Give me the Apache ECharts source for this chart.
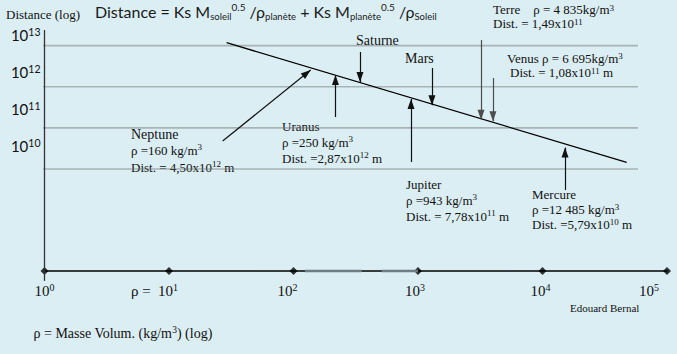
<!DOCTYPE html>
<html><head><meta charset="utf-8">
<script src="https://cdn.jsdelivr.net/npm/echarts@6/dist/echarts.min.js"></script>
<style>html,body{margin:0;padding:0;background:#dbeef4;}#c{width:677px;height:354px;}</style>
</head><body><div id="c"></div>
<script>
// ---------------- data (log10 values) ----------------
const rhoExponents  = [0, 1, 2, 3, 4, 5];          // x ticks : log10(ρ)
const distExponents = [10, 11, 12, 13];            // y ticks : log10(distance)
const trendRho  = [1.463, 4.676];                  // ends of the law line, log10 ρ
const trendDist = [13.071, 10.163];                // ends of the law line, log10 distance
const planets   = ['Neptune', 'Uranus', 'Saturne', 'Jupiter', 'Mars', 'Terre', 'Venus', 'Mercure'];
const arrowRho  = [[1.431, 2.138], [2.337, 2.337], [2.534, 2.534], [2.944, 2.944], [3.112, 3.112], [3.506, 3.506], [3.602, 3.602], [4.181, 4.181]];
const arrowDist = [[10.681, 12.407], [11.265, 12.286], [12.845, 12.116], [10.171, 11.702], [12.456, 11.55], [13.137, 11.2], [12.213, 11.16], [9.49, 10.52]];
const rhoText   = ['ρ =160 kg/m', 'ρ =250 kg/m', null, 'ρ =943 kg/m', null, 'ρ = 4 835kg/m', 'ρ = 6 695kg/m', 'ρ =12 485 kg/m'];
const distText  = ['Dist. = 4,50x10', 'Dist. =2,87x10', null, 'Dist. = 7,78x10', null, 'Dist. = 1,49x10', 'Dist. = 1,08x10', 'Dist. =5,79x10'];
const distPow   = [12, 12, null, 11, null, 11, 11, 10];
const distUnit  = [' m', ' m', null, ' m', null, '', ' m', ' m'];
const guideRho  = [-0.088, 4.767];                 // extent of the dotted guides
const yAxisSpan = [7.28, 13.38];                   // extent of the vertical axis line
const greyRho   = [[2.092, 2.548], [2.708, 3.0]];  // grey pieces on the x axis

// ---------------- styles / layout ----------------
const SERIF = "'Liberation Serif','Times New Roman',serif";
const SANS = "Lato,'Liberation Sans',sans-serif";
const INK = '#111';
const Y_MIN = 7.52, Y_MAX = 13.38;
const greyArrows = ['Terre', 'Venus'];
const layout = {
  Neptune: {mode: 'stack', x: 131, y: 126.5, lh: 16.3, nameSize: 14},
  Uranus:  {mode: 'stack', x: 282, y: 118, lh: 16, nameSize: 13},
  Saturne: {mode: 'name', x: 356, y: 32, nameSize: 14},
  Jupiter: {mode: 'stack', x: 406, y: 177, lh: 15.7, nameSize: 13},
  Mars:    {mode: 'name', x: 405, y: 50.5, nameSize: 14},
  Terre:   {mode: 'inline', x: 493, y: 3, x2: 493, y2: 17.3, sep: '    '},
  Venus:   {mode: 'inline', x: 507, y: 51.8, x2: 510, y2: 66.3, sep: ' '},
  Mercure: {mode: 'stack', x: 532, y: 187, lh: 15, nameSize: 13}
};
const xLabelPad = {0: 0, 1: 29, 2: 12, 3: 6, 4: 4, 5: 36};

function annRich(lh, nameSize) {
  return {
    t: {fontFamily: SERIF, fontSize: 13, lineHeight: lh, fill: INK},
    n: {fontFamily: SERIF, fontSize: nameSize || 13, lineHeight: lh, fill: INK},
    u: {fontFamily: SERIF, fontSize: 9, verticalAlign: 'top', fill: INK}
  };
}
function textEl(x, y, text, rich) {
  return {type: 'text', x: x, y: y, silent: true,
    style: {text: text, rich: rich, align: 'left', verticalAlign: 'top', fill: INK}};
}

const graphics = [];
// title
graphics.push(textEl(95, 1.5,
  '{a|Distance = Ks M}{b|soleil}{c|0.5}{a| /ρ}{b|planète}{a| + Ks M}{b|planète}{c|0.5}{a| /ρ}{b|Soleil}',
  {a: {fontFamily: SANS, fontSize: 16, lineHeight: 20, fill: '#1a1a1a'},
   b: {fontFamily: SANS, fontSize: 9.5, verticalAlign: 'bottom', fill: '#1a1a1a'},
   c: {fontFamily: SANS, fontSize: 10, verticalAlign: 'top', fill: '#1a1a1a'}}));
graphics.push(textEl(6, 6, '{t|Distance (log)}', {t: {fontFamily: SERIF, fontSize: 13, lineHeight: 16, fill: INK}}));
graphics.push(textEl(570, 301, '{t|Edouard Bernal}', {t: {fontFamily: SERIF, fontSize: 11, lineHeight: 14, fill: INK}}));
graphics.push(textEl(33.5, 325, '{t|ρ = Masse Volum. (kg/m}{u|3}{t|) (log)}',
  {t: {fontFamily: SERIF, fontSize: 14, lineHeight: 17, fill: INK}, u: {fontFamily: SERIF, fontSize: 9.5, verticalAlign: 'top', fill: INK}}));

// planet annotations
planets.forEach((p, i) => {
  const L = layout[p];
  const distLine = distText[i] ? `{t|${distText[i]}}{u|${distPow[i]}}` + (distUnit[i] ? `{t|${distUnit[i]}}` : '') : '';
  const rhoLine = rhoText[i] ? `{t|${rhoText[i]}}{u|3}` : '';
  if (L.mode === 'name') {
    graphics.push(textEl(L.x, L.y, `{n|${p}}`, annRich(16, L.nameSize)));
  } else if (L.mode === 'stack') {
    graphics.push(textEl(L.x, L.y, `{n|${p}}\n${rhoLine}\n${distLine}`, annRich(L.lh, L.nameSize)));
  } else {
    graphics.push(textEl(L.x, L.y, `{t|${p}${L.sep}}${rhoLine}`, annRich(13)));
    graphics.push(textEl(L.x2, L.y2, distLine, annRich(13)));
  }
});

// ---------------- series ----------------
const series = [];
distExponents.forEach(v => {
  series.push({type: 'line', clip: false, silent: true, symbol: 'none', animation: false,
    data: [[guideRho[0], v], [guideRho[1], v]],
    lineStyle: {color: '#777', width: 1.6, type: [1, 1]}});
});
series.push({type: 'line', clip: false, silent: true, symbol: 'none', animation: false,
  data: [[0, yAxisSpan[0]], [0, yAxisSpan[1]]], lineStyle: {color: '#333', width: 1.3}});
greyRho.forEach(seg => {
  series.push({type: 'line', clip: false, silent: true, symbol: 'none', animation: false,
    data: [[seg[0], Y_MIN], [seg[1], Y_MIN]], lineStyle: {color: '#6e7d84', width: 2.4}});
});
series.push({type: 'scatter', clip: false, silent: true, animation: false,
  symbol: 'diamond', symbolSize: 8, itemStyle: {color: '#000'},
  data: rhoExponents.map(e => [e, Y_MIN])});
series.push({type: 'line', clip: false, silent: true, symbol: 'none', animation: false,
  data: [[trendRho[0], trendDist[0]], [trendRho[1], trendDist[1]]],
  lineStyle: {color: '#000', width: 1.3}});
series.push({type: 'line', silent: true, animation: false, data: [],
  markLine: {silent: true, animation: false,
    symbol: ['none', 'triangle'], symbolSize: 9,
    label: {show: false}, emphasis: {disabled: true},
    lineStyle: {type: 'solid', width: 1.2, color: '#111'},
    itemStyle: {color: '#111'},
    data: planets.map((p, i) => {
      const c = greyArrows.includes(p) ? '#4d4d4d' : '#111';
      return [{coord: [arrowRho[i][0], arrowDist[i][0]], symbol: 'none', lineStyle: {color: c}},
              {coord: [arrowRho[i][1], arrowDist[i][1]], symbol: 'triangle', symbolSize: [7, 10],
               symbolOffset: [0, '50%'], itemStyle: {color: '#111'}}];
    })}});

const chart = echarts.init(document.getElementById('c'), null, {renderer: 'svg'});
chart.setOption({
  backgroundColor: '#dbeef4',
  animation: false,
  grid: {left: 44.5, right: 10, top: 30, bottom: 83, containLabel: false, outerBoundsMode: 'none'},
  xAxis: {type: 'value', min: 0, max: 5, interval: 1,
    axisLine: {show: true, onZero: false, lineStyle: {color: '#000', width: 1.5}},
    axisTick: {show: false}, splitLine: {show: false},
    axisLabel: {margin: 11, hideOverlap: false, showMinLabel: true, showMaxLabel: true,
      formatter: v => (v === 1 ? '{p|ρ =  }' : '') + `{n|10}{s${v}|${v}}`,
      rich: Object.assign({
        n: {fontFamily: SERIF, fontSize: 15, lineHeight: 17, color: INK},
        p: {fontFamily: SERIF, fontSize: 15, lineHeight: 17, color: INK}},
        ...rhoExponents.map(e => ({['s' + e]: {fontFamily: SERIF, fontSize: 10, verticalAlign: 'top', color: INK, padding: [0, xLabelPad[e], 0, 0]}})))}},
  yAxis: [
    {type: 'value', min: Y_MIN, max: Y_MAX, show: false, splitLine: {show: false}},
    {type: 'value', min: 6.613, max: 13.144, position: 'left',
      axisLine: {show: false}, axisTick: {show: false}, splitLine: {show: false},
      axisLabel: {margin: 4, customValues: distExponents,
        formatter: v => `{n|10}{s|${v}}`,
        rich: {n: {fontFamily: SANS, fontSize: 15, lineHeight: 18, color: INK},
               s: {fontFamily: SANS, fontSize: 10.5, verticalAlign: 'top', color: INK}}}}
  ],
  graphic: graphics,
  series: series
});
</script></body></html>
